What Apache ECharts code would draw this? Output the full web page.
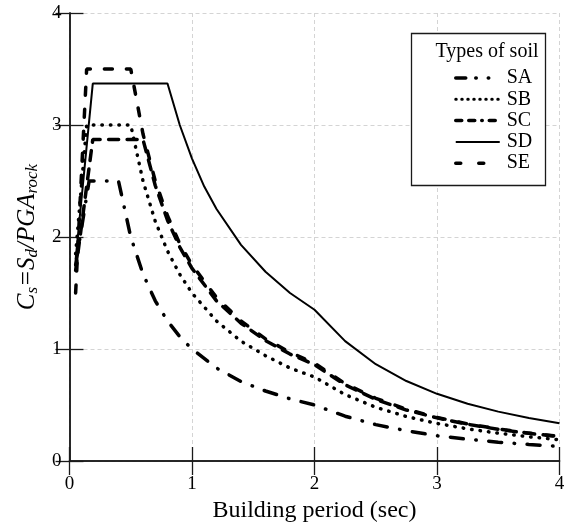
<!DOCTYPE html>
<html>
<head>
<meta charset="utf-8">
<script src="https://cdn.jsdelivr.net/npm/echarts@6/dist/echarts.min.js"></script>
<style>
  html, body { margin: 0; padding: 0; background: #fff; }
  #main { width: 569px; height: 522px; }
</style>
</head>
<body>
<div id="main"></div>
<script>
// periods (sec) and normalised spectrum values
const periodsSA = [0.05, 0.16, 0.4, 0.5, 0.6, 0.7, 0.8, 0.9, 1.0, 1.2, 1.4, 1.6, 1.8, 2.0, 2.25, 2.5, 2.75, 3.0, 3.25, 3.5, 3.75, 4.0];
const valuesSA  = [1.75, 2.5, 2.5, 2.0, 1.67, 1.43, 1.25, 1.11, 1.0, 0.83, 0.71, 0.625, 0.555, 0.5, 0.4, 0.325, 0.27, 0.225, 0.195, 0.168, 0.148, 0.13];

const periodsSB = [0.05, 0.14, 0.5, 0.6, 0.7, 0.8, 0.9, 1.0, 1.2, 1.4, 1.6, 1.8, 2.0, 2.25, 2.5, 2.75, 3.0, 3.25, 3.5, 3.75, 4.0];
const valuesSB  = [1.85, 3.0, 3.0, 2.5, 2.14, 1.875, 1.667, 1.5, 1.25, 1.07, 0.94, 0.83, 0.75, 0.593, 0.48, 0.397, 0.335, 0.287, 0.248, 0.216, 0.19];

const periodsSC = [0.05, 0.19, 0.6, 0.7, 0.8, 0.9, 1.0, 1.2, 1.4, 1.6, 1.8, 2.0, 2.25, 2.5, 2.75, 3.0, 3.25, 3.5, 3.75, 4.0];
const valuesSC  = [1.7, 2.87, 2.87, 2.46, 2.15, 1.91, 1.72, 1.43, 1.23, 1.075, 0.955, 0.86, 0.68, 0.55, 0.455, 0.385, 0.328, 0.283, 0.247, 0.218];

const periodsSD = [0.05, 0.19, 0.8, 0.9, 1.0, 1.1, 1.2, 1.4, 1.6, 1.8, 2.0, 2.25, 2.5, 2.75, 3.0, 3.25, 3.5, 3.75, 4.0];
const valuesSD  = [1.8, 3.37, 3.37, 3.0, 2.7, 2.45, 2.25, 1.93, 1.69, 1.5, 1.35, 1.07, 0.864, 0.714, 0.6, 0.511, 0.441, 0.384, 0.3375];

const periodsSE = [0.05, 0.14, 0.5, 0.6, 0.7, 0.8, 0.9, 1.0, 1.2, 1.4, 1.6, 1.8, 2.0, 2.25, 2.5, 2.75, 3.0, 3.25, 3.5, 3.75, 4.0];
const valuesSE  = [1.5, 3.5, 3.5, 2.92, 2.5, 2.19, 1.94, 1.75, 1.46, 1.25, 1.09, 0.97, 0.875, 0.69, 0.56, 0.463, 0.389, 0.331, 0.286, 0.249, 0.219];

const soilTypes = ['SA', 'SB', 'SC', 'SD', 'SE'];
const xTicks = [0, 1, 2, 3, 4];
const yTicks = [0, 1, 2, 3, 4];

const serif = '"Liberation Serif", "Times New Roman", serif';

const myChart = echarts.init(document.getElementById('main'));

const pairs = (xs, ys) => xs.map((x, i) => [x, ys[i]]);

// one dash pattern per soil type
const lineStyles = {
  SA: { width: 3.5, type: [13, 12.5, 0.5, 12.5], cap: 'round' },
  SB: { width: 3.5, type: [0.5, 8], cap: 'round' },
  SC: { width: 3.5, type: [10, 8.5], cap: 'round' },
  SD: { width: 2, type: 'solid' },
  SE: { width: 3.5, type: [8, 14], cap: 'round' },
};

// legend icons are short, so the patterns are tightened a bit there
const legendLineStyles = {
  SA: { width: 3.5, type: [10, 10, 0.5, 12, 0.5, 12], cap: 'round' },
  SB: { width: 3, type: [0.5, 5.5], cap: 'round' },
  SC: { width: 3.5, type: [6, 7, 6, 7, 0.5, 7], cap: 'round' },
  SD: { width: 2, type: 'solid' },
  SE: { width: 3.5, type: [5, 18], cap: 'round' },
};

const seriesData = {
  SA: pairs(periodsSA, valuesSA),
  SB: pairs(periodsSB, valuesSB),
  SC: pairs(periodsSC, valuesSC),
  SD: pairs(periodsSD, valuesSD),
  SE: pairs(periodsSE, valuesSE),
};

const chartSeries = soilTypes.map((name) => ({
  name,
  type: 'line',
  symbol: 'none',
  xAxisIndex: 0,
  yAxisIndex: 0,
  data: seriesData[name],
  lineStyle: Object.assign({ color: '#000' }, lineStyles[name]),
  itemStyle: { color: '#000' },
  z: 3,
}));

const axisLineStyle = { lineStyle: { color: '#1a1a1a', width: 1.5 } };
const tickStyle = { inside: true, length: 14, lineStyle: { color: '#1a1a1a', width: 1.3 } };
const gridLine = { show: true, lineStyle: { color: '#d4d4d4', width: 1, type: [4, 3] } };

const option = {
  animation: false,
  backgroundColor: '#fff',
  grid: { left: 69.5, right: 9.5, top: 13, bottom: 61, outerBoundsMode: 'none' },
  xAxis: [
    {
      type: 'value',
      min: xTicks[0],
      max: xTicks[xTicks.length - 1],
      interval: 1,
      name: 'Building period (sec)',
      nameLocation: 'middle',
      nameGap: 37,
      nameTextStyle: { fontFamily: serif, fontSize: 24, color: '#000' },
      axisLine: axisLineStyle,
      axisTick: tickStyle,
      axisLabel: { fontFamily: serif, fontSize: 19, color: '#000', margin: 14 },
      splitLine: gridLine,
    },
    {
      type: 'value',
      position: 'top',
      min: xTicks[0],
      max: xTicks[xTicks.length - 1],
      interval: 1,
      axisLine: axisLineStyle,
      axisTick: tickStyle,
      axisLabel: { show: false },
      splitLine: { show: false },
    },
  ],
  yAxis: [
    {
      type: 'value',
      min: yTicks[0],
      max: yTicks[yTicks.length - 1],
      interval: 1,
      name: '{m|C}{s|s}{m|=S}{s|d}{m|/PGA}{s|rock}',
      nameLocation: 'middle',
      nameRotate: 90,
      nameGap: 23,
      nameTextStyle: {
        fontFamily: serif,
        color: '#000',
        rich: {
          m: { fontFamily: serif, fontStyle: 'italic', fontSize: 25, lineHeight: 28, verticalAlign: 'middle', color: '#000' },
          s: { fontFamily: serif, fontStyle: 'italic', fontSize: 17, lineHeight: 17, verticalAlign: 'bottom', color: '#000' },
        },
      },
      axisLine: axisLineStyle,
      axisTick: tickStyle,
      axisLabel: { fontFamily: serif, fontSize: 19, color: '#000', margin: 8 },
      splitLine: gridLine,
    },
    {
      type: 'value',
      position: 'right',
      min: yTicks[0],
      max: yTicks[yTicks.length - 1],
      interval: 1,
      axisLine: axisLineStyle,
      axisTick: tickStyle,
      axisLabel: { show: false },
      splitLine: { show: false },
    },
  ],
  legend: {
    data: soilTypes.map((name) => ({
      name,
      lineStyle: Object.assign({ color: '#000' }, legendLineStyles[name]),
    })),
    orient: 'vertical',
    left: 454,
    top: 68,
    padding: 0,
    itemWidth: 44,
    itemHeight: 14,
    itemGap: 1.3,
    itemStyle: { opacity: 0 },
    textStyle: { fontFamily: serif, fontSize: 20, lineHeight: 20, color: '#000', padding: [0, 0, 0, 2] },
    z: 6,
  },
  graphic: [
    {
      type: 'rect',
      z: 5,
      shape: { x: 411.5, y: 33.5, width: 134, height: 152 },
      style: { fill: '#fff', stroke: '#1a1a1a', lineWidth: 1.3 },
    },
    {
      type: 'text',
      z: 7,
      x: 487,
      y: 52,
      style: {
        text: 'Types of soil',
        font: '20px ' + serif,
        fill: '#000',
        align: 'center',
        verticalAlign: 'middle',
      },
    },
  ],
  series: chartSeries,
};

myChart.setOption(option);
</script>
</body>
</html>
